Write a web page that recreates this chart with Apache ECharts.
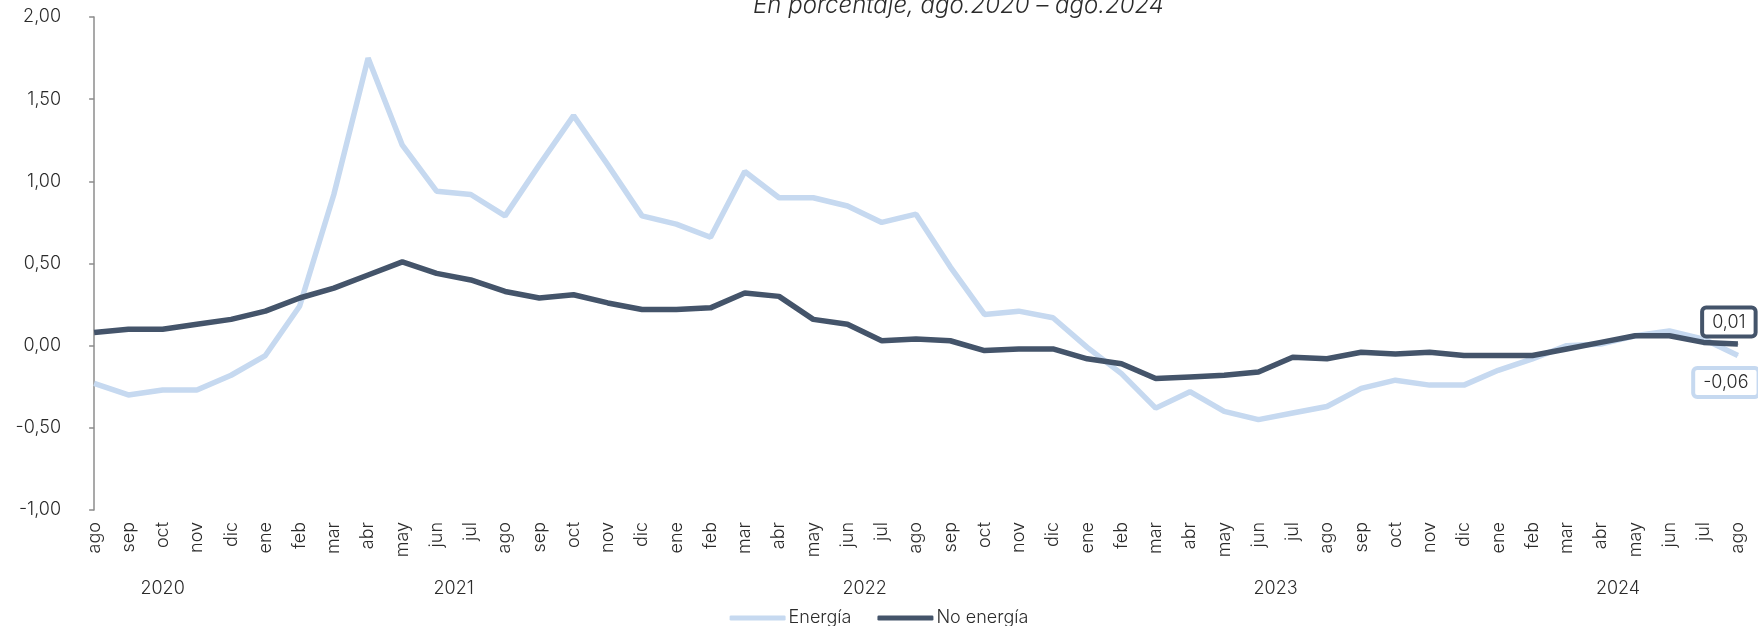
<!DOCTYPE html>
<html>
<head>
<meta charset="utf-8">
<script src="https://cdn.jsdelivr.net/npm/echarts@6/dist/echarts.min.js"></script>
<style>
  html, body { margin: 0; padding: 0; background: #fff; }
  #chart { width: 1758px; height: 626px; }
</style>
</head>
<body>
<div id="chart"></div>
<script>
// meses ago.2020 - ago.2024
var months = ['ago','sep','oct','nov','dic',
  'ene','feb','mar','abr','may','jun','jul','ago','sep','oct','nov','dic',
  'ene','feb','mar','abr','may','jun','jul','ago','sep','oct','nov','dic',
  'ene','feb','mar','abr','may','jun','jul','ago','sep','oct','nov','dic',
  'ene','feb','mar','abr','may','jun','jul','ago'];
var years = ['2020','2021','2022','2023','2024'];
var monthsPerYear = [5, 12, 12, 12, 8];

var energia = [-0.23,-0.30,-0.27,-0.27,-0.18,
  -0.06,0.24,0.92,1.75,1.22,0.94,0.92,0.79,1.10,1.40,1.10,0.79,
  0.74,0.66,1.06,0.90,0.90,0.85,0.75,0.80,0.48,0.19,0.21,0.17,
  -0.01,-0.17,-0.38,-0.28,-0.40,-0.45,-0.41,-0.37,-0.26,-0.21,-0.24,-0.24,
  -0.15,-0.08,0.00,0.01,0.06,0.09,0.04,-0.06];
var noEnergia = [0.08,0.10,0.10,0.13,0.16,
  0.21,0.29,0.35,0.43,0.51,0.44,0.40,0.33,0.29,0.31,0.26,0.22,
  0.22,0.23,0.32,0.30,0.16,0.13,0.03,0.04,0.03,-0.03,-0.02,-0.02,
  -0.08,-0.11,-0.20,-0.19,-0.18,-0.16,-0.07,-0.08,-0.04,-0.05,-0.04,-0.06,
  -0.06,-0.06,-0.02,0.02,0.06,0.06,0.02,0.01];

var yTicks = { min: -1, max: 2, step: 0.5 };

var FONT = "Inter, 'DejaVu Sans', sans-serif";
var W = 300;
var TXT = '#2b2b2b';
var LIGHT = '#C6D9F0';
var DARK = '#44546A';

function fmt(v) {
  return v.toFixed(2).replace('.', ',');
}

// centros de cada año en el eje de categorías
var yearCenters = [];
var acc = 0;
for (var i = 0; i < monthsPerYear.length; i++) {
  yearCenters.push(acc + (monthsPerYear[i] - 1) / 2);
  acc += monthsPerYear[i];
}

function withEndLabel(values, color, pos, offset) {
  return values.map(function (v, i) {
    if (i < values.length - 1) return v;
    return {
      value: v,
      symbol: 'circle',
      symbolSize: 1,
      label: {
        show: true,
        position: pos,
        distance: 6,
        offset: offset,
        formatter: function (p) { return fmt(p.value); },
        fontFamily: FONT,
        fontWeight: W,
        fontSize: 18,
        color: TXT,
        backgroundColor: '#fff',
        borderColor: color,
        borderWidth: 4,
        borderRadius: 2,
        padding: [4, 8, 3, 8]
      }
    };
  });
}

var chart = echarts.init(document.getElementById('chart'));
chart.setOption({
  animation: false,
  backgroundColor: '#fff',
  title: {
    text: 'En porcentaje, ago.2020 – ago.2024',
    left: 748,
    top: -11,
    textStyle: {
      fontFamily: FONT,
      fontSize: 24,
      fontStyle: 'italic',
      fontWeight: W,
      color: TXT
    }
  },
  legend: {
    data: ['Energía', 'No energía'],
    top: 604,
    left: 'center',
    icon: 'roundRect',
    itemWidth: 56,
    itemHeight: 5,
    itemGap: 26,
    textStyle: { fontFamily: FONT, fontWeight: W, fontSize: 18, color: TXT, padding: [0, 0, 0, -2] }
  },
  grid: {
    left: 77,
    top: 17,
    width: 1686,
    height: 493
  },
  xAxis: [{
    type: 'category',
    data: months,
    axisLine: { show: false },
    axisTick: { show: false },
    axisLabel: {
      rotate: 90,
      interval: 0,
      margin: 12,
      fontFamily: FONT,
      fontWeight: W,
      fontSize: 18,
      color: TXT
    }
  }, {
    type: 'value',
    position: 'bottom',
    offset: 62,
    min: -0.5,
    max: months.length - 0.5,
    interval: 0.5,
    axisLine: { show: false },
    axisTick: { show: false },
    splitLine: { show: false },
    axisLabel: {
      margin: 8,
      fontFamily: FONT,
      fontWeight: W,
      fontSize: 18,
      color: TXT,
      formatter: function (v) {
        for (var k = 0; k < yearCenters.length; k++) {
          if (Math.abs(v - yearCenters[k]) < 1e-6) return years[k];
        }
        return '';
      }
    }
  }],
  yAxis: {
    type: 'value',
    min: yTicks.min,
    max: yTicks.max,
    interval: yTicks.step,
    axisLine: { show: true, lineStyle: { color: '#8C8C8C', width: 1.5 } },
    axisTick: { show: true, length: 5, lineStyle: { color: '#8C8C8C', width: 1.5 } },
    splitLine: { show: false },
    axisLabel: {
      margin: 16,
      fontFamily: FONT,
      fontWeight: W,
      fontSize: 18,
      color: TXT,
      formatter: fmt
    }
  },
  series: [{
    name: 'Energía',
    type: 'line',
    symbol: 'none',
    showSymbol: true,
    color: LIGHT,
    lineStyle: { color: LIGHT, width: 5.5 },
    data: withEndLabel(energia, LIGHT, 'bottom', [-12, 8])
  }, {
    name: 'No energía',
    type: 'line',
    symbol: 'none',
    showSymbol: true,
    color: DARK,
    lineStyle: { color: DARK, width: 5.5 },
    data: withEndLabel(noEnergia, DARK, 'top', [-9, -3])
  }]
});
</script>
</body>
</html>
